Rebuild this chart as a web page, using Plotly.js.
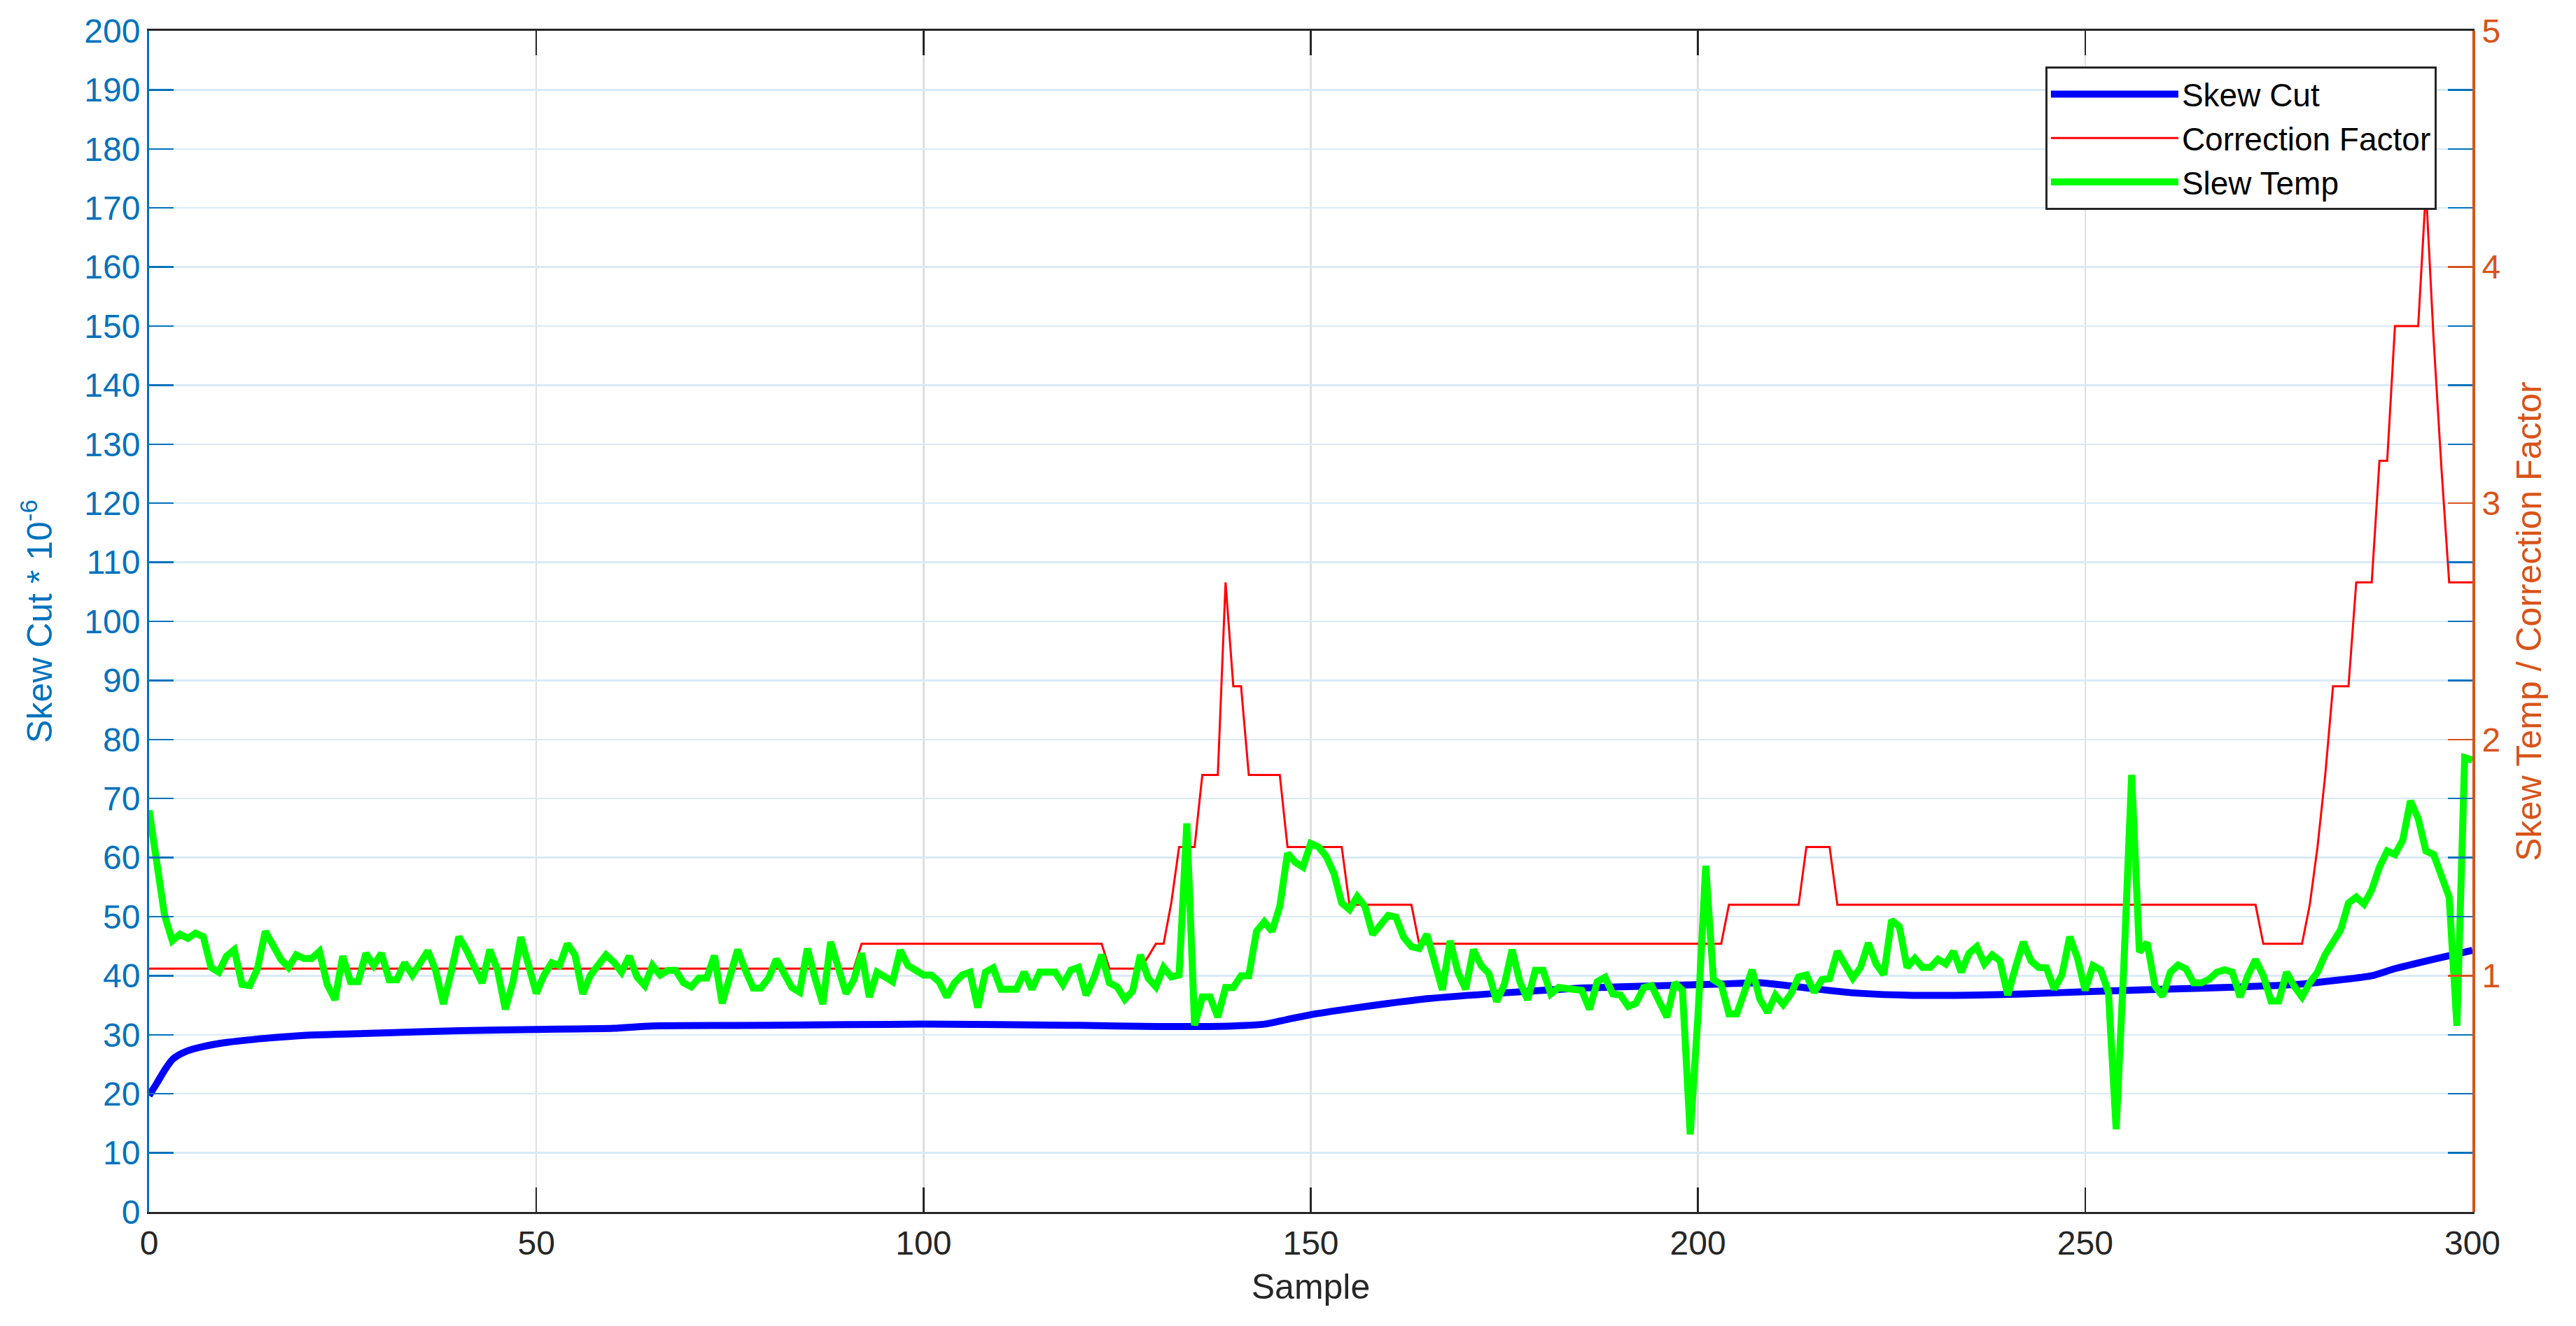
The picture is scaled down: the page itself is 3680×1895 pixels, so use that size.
<!DOCTYPE html>
<html>
<head>
<meta charset="utf-8">
<script src="https://cdn.plot.ly/plotly-3.0.1.min.js"></script>
<style>
  html, body { margin: 0; padding: 0; background: #ffffff; }
  #plot { width: 3680px; height: 1895px; }
</style>
</head>
<body>
<div id="plot"></div>
<script>
// ---- data ----
// Skew Cut (left axis, *10^-6)
const skewX = [0,1,2,3,4,5,7,10,15,20, 30,40,50,60,65,80,100,120,130,140,
  144,147,150,155,160,165,175,185,195,203, 208,213,220,227,235,242,250,260,270,277,
  283,287,290,295,300];
const skewY = [19.7,21.8,24,25.8,26.7,27.3,28.0,28.7,29.4,29.9, 30.3,30.7,30.9,31.1,31.5,31.6,31.8,31.6,31.4,31.5,
  31.8,32.6,33.4,34.4,35.3,36.1,37.1,37.9,38.3,38.6, 38.8,38.1,37.1,36.7,36.7,36.9,37.3,37.7,38.1,38.5,
  39.3,40.0,41.2,42.8,44.3];

// Correction Factor (right axis), corner points of the step line
const corrX = [0,91,92,123,124,128,129,130,131,132, 133,135,136,138,139,140,141,142,146,147,
  154,155,163,164,203,204,213,214,217,218, 272,273,278,279,280,281,282,284,285,287,
  288,289,290,293,294,295,296,297,300];
const corrY = [1.03,1.03,1.135,1.135,1.03,1.03,1.08,1.135,1.135,1.31, 1.545,1.545,1.85,1.85,2.665,2.225,2.225,1.85,1.85,1.545,
  1.545,1.30,1.30,1.135,1.135,1.30,1.30,1.545,1.545,1.30, 1.30,1.135,1.135,1.30,1.545,1.85,2.225,2.225,2.665,2.665,
  3.18,3.18,3.75,3.75,4.33,3.69,3.15,2.665,2.665];

// Slew Temp (right axis), one value per sample 0..300
const slewTemp = [
  1.70,1.475,1.255,1.148,1.175,1.158,1.18,1.165,1.035,1.015,
  1.083,1.11,0.963,0.958,1.03,1.188,1.123,1.07,1.035,1.088,
  1.073,1.073,1.103,0.963,0.898,1.083,0.975,0.975,1.095,1.043,
  1.095,0.983,0.983,1.055,1.003,1.055,1.105,1.023,0.88,1.015,
  1.165,1.108,1.03,0.97,1.11,1.023,0.858,0.975,1.163,1.043,
  0.925,1.003,1.055,1.043,1.135,1.088,0.923,1.003,1.05,1.088,
  1.058,1.015,1.083,0.995,0.958,1.043,1.003,1.023,1.023,0.97,
  0.953,0.99,0.99,1.085,0.883,1.003,1.11,1.023,0.948,0.948,
  0.99,1.07,1.003,0.95,0.93,1.115,0.99,0.88,1.143,1.03,
  0.925,0.983,1.095,0.91,1.015,0.995,0.975,1.108,1.043,1.023,
  1.003,1.003,0.975,0.91,0.97,1.003,1.015,0.865,1.015,1.033,
  0.943,0.943,0.943,1.015,0.943,1.015,1.015,1.015,0.963,1.023,
  1.035,0.918,0.99,1.088,0.97,0.953,0.90,0.935,1.088,0.99,
  0.953,1.035,0.995,1.003,1.645,0.79,0.91,0.91,0.825,0.95,
  0.95,1.0,1.0,1.188,1.228,1.188,1.293,1.518,1.48,1.46,
  1.56,1.545,1.505,1.433,1.308,1.28,1.335,1.293,1.175,1.215,
  1.255,1.248,1.163,1.123,1.115,1.175,1.055,0.94,1.148,1.015,
  0.943,1.11,1.043,1.01,0.89,0.963,1.11,0.975,0.898,1.023,
  1.023,0.923,0.95,0.948,0.943,0.938,0.858,0.975,0.993,0.923,
  0.918,0.87,0.883,0.95,0.958,0.89,0.825,0.97,0.938,0.328,
  0.83,1.465,0.983,0.963,0.838,0.838,0.943,1.025,0.9,0.845,
  0.918,0.878,0.923,0.995,1.003,0.93,0.983,0.988,1.103,1.043,
  0.99,1.035,1.138,1.05,1.005,1.235,1.208,1.035,1.073,1.035,
  1.035,1.07,1.05,1.103,1.015,1.095,1.123,1.05,1.088,1.063,
  0.918,1.035,1.143,1.063,1.035,1.033,0.943,1.003,1.165,1.075,
  0.938,1.043,1.025,0.93,0.35,1.05,1.85,1.1,1.14,0.958,
  0.913,1.015,1.045,1.03,0.97,0.97,0.985,1.015,1.025,1.015,
  0.91,1.0,1.068,1.0,0.893,0.893,1.015,0.955,0.91,0.97,
  1.015,1.09,1.15,1.195,1.308,1.333,1.303,1.363,1.46,1.528,
  1.513,1.573,1.74,1.665,1.528,1.513,1.423,1.333,0.788,1.923,
  1.913
];
const sampleNo = slewTemp.map(function(v, i){ return i; });

// ---- tick labels ----
const xTicks = [0,50,100,150,200,250,300];
const leftTicks = [0,10,20,30,40,50,60,70,80,90,100,110,120,130,140,150,160,170,180,190,200];
const rightTicks = [1,2,3,4,5];

const blueAx = '#0072bd';
const orangeAx = '#d95319';
const darkAx = '#262626';

let data = [{
    x: skewX,
    y: skewY,
    type: 'scatter',
    mode: 'lines',
    name: 'Skew Cut',
    line: {color: '#0000ff', width: 10, shape: 'spline', smoothing: 0.6}
  }, {
    x: corrX,
    y: corrY,
    yaxis: 'y2',
    type: 'scatter',
    mode: 'lines',
    name: 'Correction Factor',
    line: {color: '#ff0000', width: 3}
  }, {
    x: sampleNo,
    y: slewTemp,
    yaxis: 'y2',
    type: 'scatter',
    mode: 'lines',
    name: 'Slew Temp',
    line: {color: '#00ff00', width: 10}
  }
];

let layout = {
  width: 3680,
  height: 1895,
  margin: {l: 213, r: 148, t: 44, b: 163, pad: 0},
  paper_bgcolor: '#ffffff',
  plot_bgcolor: '#ffffff',
  font: {family: '"Liberation Sans", Arial, sans-serif', size: 48, color: darkAx},
  showlegend: true,
  legend: {
    x: 0.9846, xanchor: 'right',
    y: 0.9698, yanchor: 'top',
    bgcolor: '#ffffff',
    bordercolor: darkAx,
    borderwidth: 3,
    font: {size: 46, color: '#000000'},
    itemwidth: 182,
    tracegroupgap: 0
  },
  xaxis: {
    range: [0, 300],
    tickvals: xTicks,
    ticks: 'inside', ticklen: 35, tickwidth: 2.5, tickcolor: darkAx,
    showline: true, linecolor: darkAx, linewidth: 3, mirror: 'ticks',
    showgrid: true, gridcolor: '#dfdfdf', gridwidth: 2.5,
    zeroline: false,
    tickfont: {size: 48, color: darkAx},
    title: {text: 'Sample', font: {size: 50, color: darkAx}, standoff: 20}
  },
  yaxis: {
    range: [0, 200],
    tickvals: leftTicks,
    ticks: 'inside', ticklen: 35, tickwidth: 2.5, tickcolor: blueAx,
    showline: true, linecolor: blueAx, linewidth: 3, mirror: 'ticks',
    showgrid: true, gridcolor: '#d9eaf6', gridwidth: 2.5,
    zeroline: false,
    tickfont: {size: 48, color: blueAx},
    title: {text: 'Skew Cut * 10<sup>-6</sup>', font: {size: 50, color: blueAx}, standoff: 30}
  },
  yaxis2: {
    range: [0, 5],
    overlaying: 'y',
    side: 'right',
    tickvals: rightTicks,
    ticks: 'inside', ticklen: 35, tickwidth: 2.5, tickcolor: orangeAx,
    showline: true, linecolor: orangeAx, linewidth: 4,
    showgrid: false, zeroline: false,
    tickfont: {size: 48, color: orangeAx},
    title: {text: 'Skew Temp / Correction Factor', font: {size: 50, color: orangeAx}, standoff: 25}
  }
};

let config = {responsive: false, displayModeBar: false, staticPlot: true};

Plotly.newPlot('plot', data, layout, config);
</script>
</body>
</html>
